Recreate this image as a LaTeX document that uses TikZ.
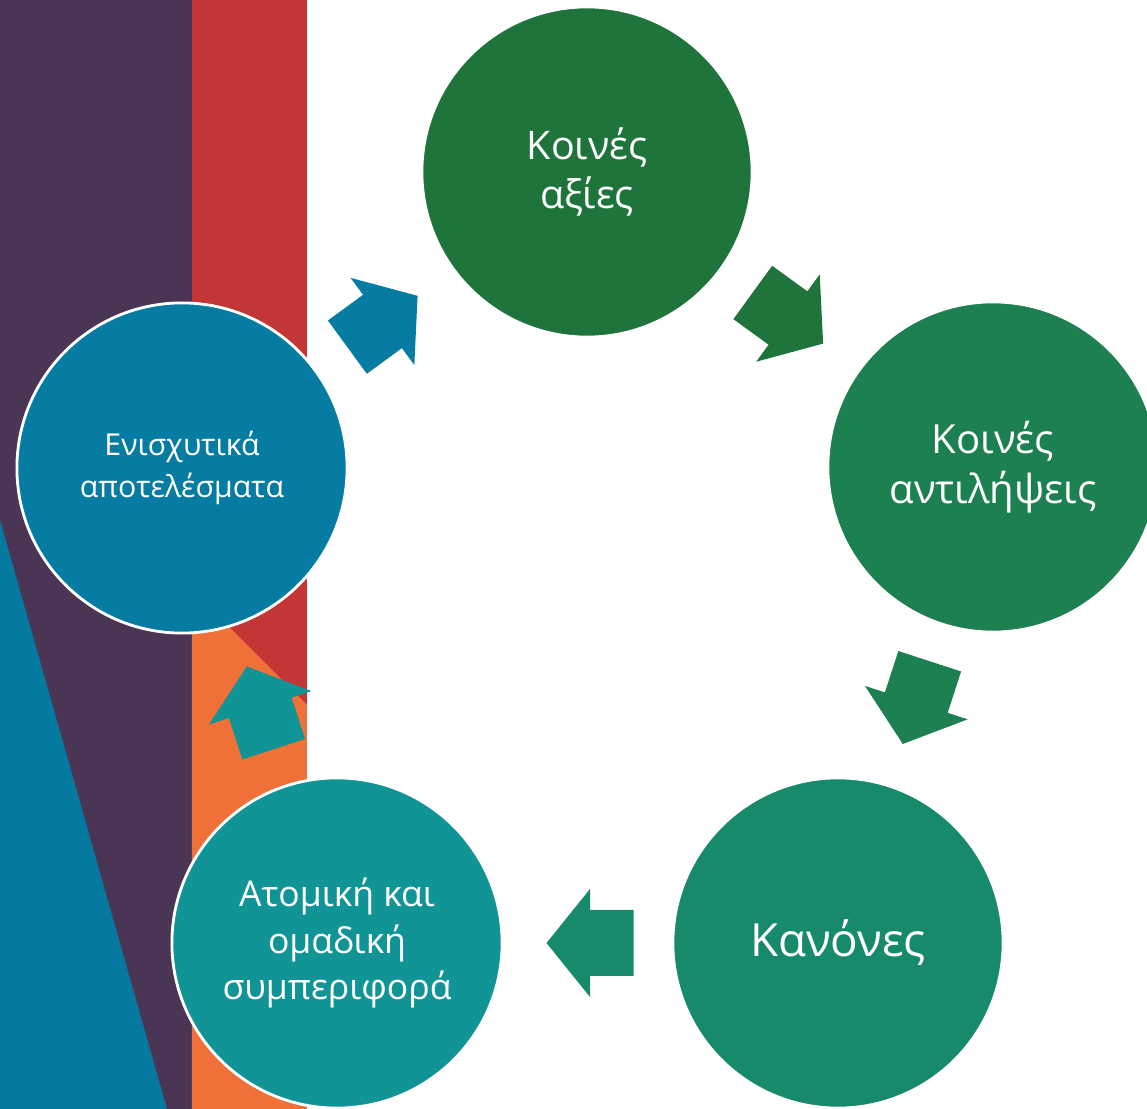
\documentclass[tikz,border=0pt]{standalone}
\usepackage{fontspec}
\setmainfont{Open Sans}
\usetikzlibrary{calc}

\definecolor{bandPurple}{HTML}{4A3555}
\definecolor{bandRed}{HTML}{C43536}
\definecolor{bandOrange}{HTML}{F07137}
\definecolor{bandBlue}{HTML}{0679A1}
\definecolor{cAxies}{HTML}{1F743C}
\definecolor{cAntil}{HTML}{1C8050}
\definecolor{cKanones}{HTML}{178A6C}
\definecolor{cAtomiki}{HTML}{109496}
\definecolor{cEnis}{HTML}{077CA3}

\tikzset{
  stage/.style={circle, draw=white, line width=0.8pt, minimum size=3.3cm,
    inner sep=0pt, text=white, align=center},
  pics/cyclearrow/.style={code={
    \fill[#1] (-43.5,-33) -- (0,-33) -- (0,-54) -- (43.5,0)
      -- (0,54) -- (0,33) -- (-43.5,33) -- cycle;
  }}
}

\begin{document}
\begin{tikzpicture}[x=0.01cm, y=-0.01cm, line join=round]

% ----------------------------
% FRAME
% ----------------------------
\useasboundingbox (0,0) rectangle (1147,1109);
\clip (0,0) rectangle (1147,1109);

% ----------------------------
% BACKGROUND BANDS
% ----------------------------
\fill[bandPurple] (0,0) rectangle (192,1109);
\fill[bandRed] (192,0) rectangle (307,705);
\fill[bandOrange] (192,590) -- (307,705) -- (307,1109) -- (192,1109) -- cycle;
\fill[bandBlue] (0,520) -- (167,1109) -- (0,1109) -- cycle;

% ----------------------------
% STAGES OF THE CYCLE
% ----------------------------
\node[stage, fill=cAxies, font=\fontsize{11.2}{14.2}\selectfont]
  (axies) at (587,172) {Κοινές\\αξίες};
\node[stage, fill=cAntil, font=\fontsize{11.4}{14.4}\selectfont]
  (antil) at (993,467) {Κοινές\\αντιλήψεις};
\node[stage, fill=cKanones, font=\fontsize{13}{16}\selectfont]
  (kanones) at (838,943) {Κανόνες};
\node[stage, fill=cAtomiki, font=\fontsize{10.1}{13.1}\selectfont]
  (atomiki) at (337,943) {Ατομική και\\ομαδική\\συμπεριφορά};
\node[stage, fill=cEnis, font=\fontsize{8.6}{11.7}\selectfont]
  (enis) at (182,468) {Ενισχυτικά\\αποτελέσματα};

% ----------------------------
% BLOCK ARROWS (colour of the stage they leave)
% ----------------------------
\foreach \from/\to/\col in {enis/axies/cEnis, axies/antil/cAxies,
    antil/kanones/cAntil, kanones/atomiki/cKanones, atomiki/enis/cAtomiki} {
  \path let \p1 = ($(\to)-(\from)$), \n1 = {atan2(\y1,\x1)} in
    ($(\from)!0.495!(\to)$) pic[rotate=\n1] {cyclearrow=\col};
}

\end{tikzpicture}
\end{document}
